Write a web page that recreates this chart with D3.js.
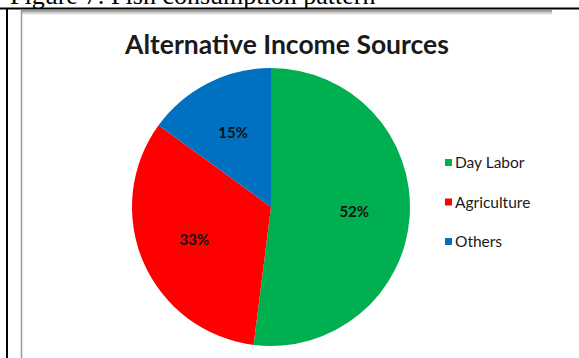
<!DOCTYPE html>
<html>
<head>
<meta charset="utf-8">
<script src="https://cdn.jsdelivr.net/npm/d3@7"></script>
<style>
  body { margin: 0; background: #fff; }
  svg { display: block; }
</style>
</head>
<body>
<div id="chart"></div>
<script>
const categories = ["Day Labor", "Agriculture", "Others"]
const values = [52, 33, 15]
const colors = ["#00b050", "#ff0000", "#0070c0"]

const width = 579
const height = 358

const svg = d3.select("#chart")
    .append("svg")
    .attr("width", width)
    .attr("height", height)

// document caption, cut off at the top like in the scan
svg.append("text")
    .attr("x", 10)
    .attr("y", 4)
    .attr("font-family", "Liberation Serif")
    .attr("font-size", 26)
    .attr("fill", "#000")
    .text("Figure 7: Fish consumption pattern")

// table borders
svg.append("line")
    .attr("x1", 0).attr("x2", width)
    .attr("y1", 8.5).attr("y2", 8.5)
    .attr("stroke", "#000").attr("stroke-width", 2)
svg.append("line")
    .attr("x1", 7).attr("x2", 7)
    .attr("y1", 8).attr("y2", height)
    .attr("stroke", "#000").attr("stroke-width", 2)

// chart frame
const grad = svg.append("defs").append("linearGradient")
    .attr("id", "topShade").attr("x1", 0).attr("x2", 0).attr("y1", 0).attr("y2", 1)
grad.append("stop").attr("offset", 0).attr("stop-color", "#8a8a8a")
grad.append("stop").attr("offset", 1).attr("stop-color", "#ffffff")
svg.append("rect")
    .attr("x", 21).attr("y", 10).attr("width", 531).attr("height", 5)
    .attr("fill", "url(#topShade)")
svg.append("line")
    .attr("x1", 21.5).attr("x2", 21.5)
    .attr("y1", 10).attr("y2", height)
    .attr("stroke", "#9a9a9a").attr("stroke-width", 1.5)

svg.append("text")
    .attr("x", 287)
    .attr("y", 54)
    .attr("text-anchor", "middle")
    .attr("font-family", "Lato")
    .attr("font-weight", "bold")
    .attr("font-size", 26.5)
    .attr("fill", "#1a1a1a")
    .text("Alternative Income Sources")

const cx = 271, cy = 207, radius = 139

const pie = d3.pie().sort(null).value(d => d)
const arcs = pie(values)
const arc = d3.arc().innerRadius(0).outerRadius(radius)
const labelArc = d3.arc().innerRadius(radius * 0.6).outerRadius(radius * 0.6)

const g = svg.append("g")
    .attr("transform", `translate(${cx},${cy})`)

g.selectAll("path")
    .data(arcs)
    .enter().append("path")
    .attr("d", arc)
    .attr("fill", (d, i) => colors[i])

g.selectAll(".lbl")
    .data(arcs)
    .enter().append("text")
    .attr("class", "lbl")
    .attr("transform", d => `translate(${labelArc.centroid(d)})`)
    .attr("text-anchor", "middle")
    .attr("dy", "0.35em")
    .attr("font-family", "Lato")
    .attr("font-weight", "bold")
    .attr("font-size", 15)
    .attr("fill", "#111")
    .text(d => d.data + "%")

const legend = svg.selectAll(".legend")
    .data(categories)
    .enter().append("g")
    .attr("class", "legend")
    .attr("transform", (d, i) => `translate(445, ${163 + i * 39.5})`)

legend.append("rect")
    .attr("x", 0).attr("y", -4)
    .attr("width", 7).attr("height", 7)
    .attr("fill", (d, i) => colors[i])

legend.append("text")
    .attr("x", 10)
    .attr("dy", "0.35em")
    .attr("font-family", "Lato")
    .attr("font-size", 15.5)
    .attr("fill", "#1a1a1a")
    .text(d => d)
</script>
</body>
</html>
